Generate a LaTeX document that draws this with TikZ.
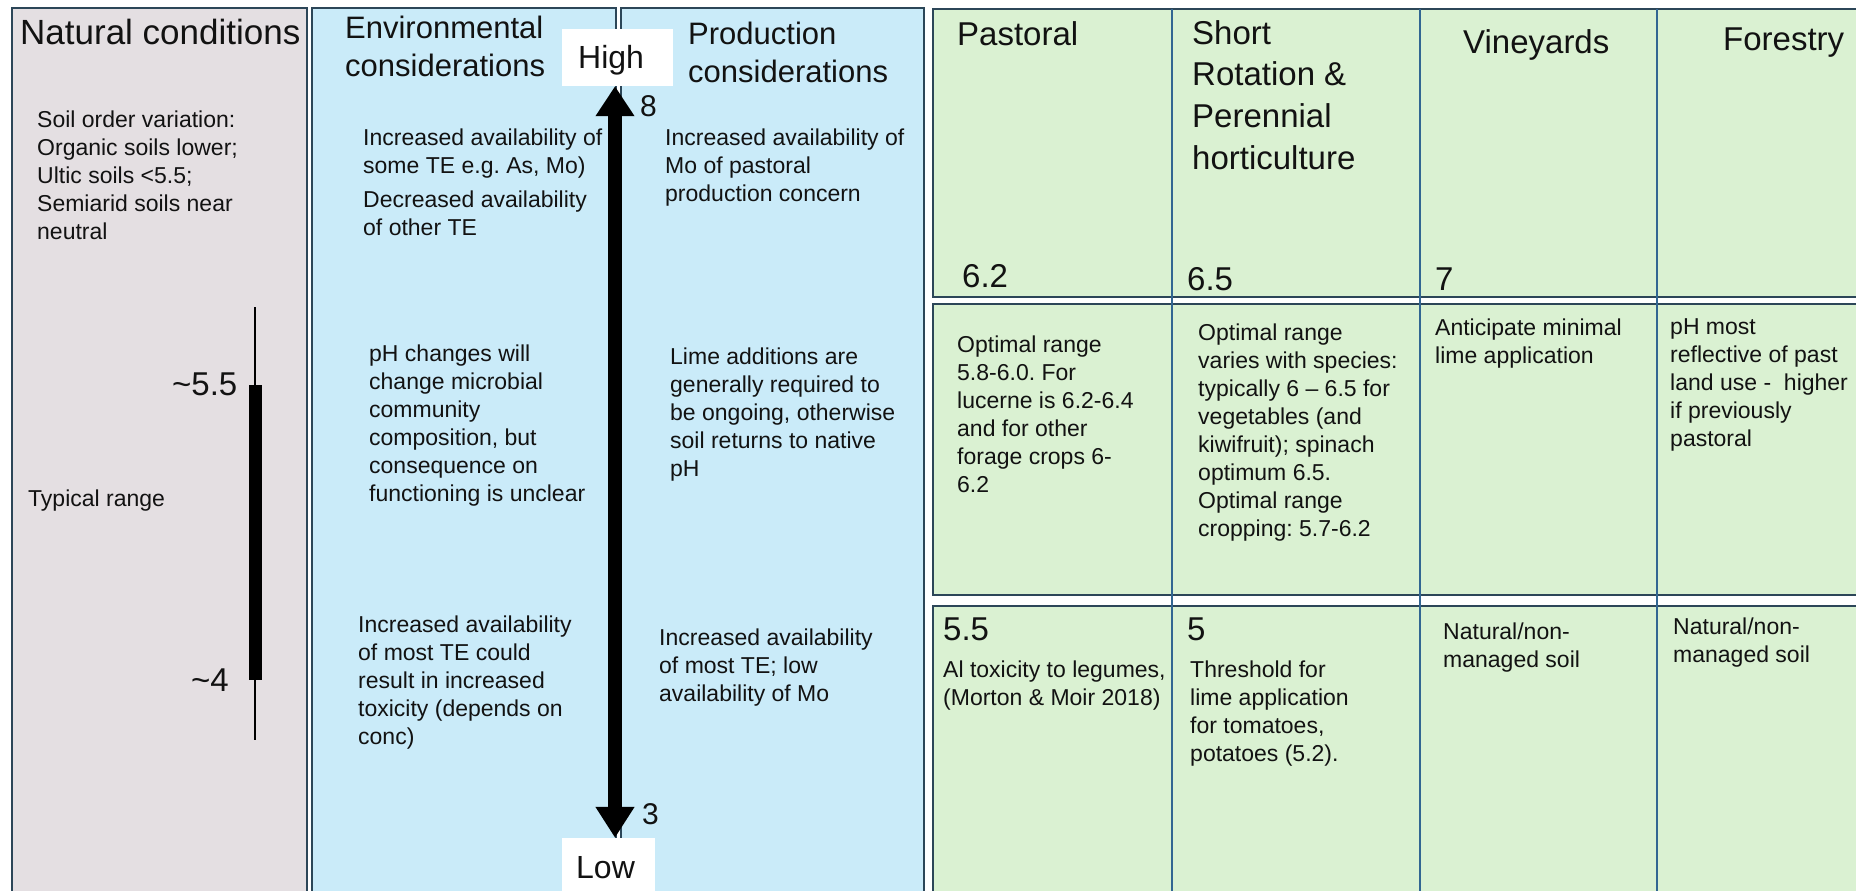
\documentclass[tikz,border=0pt]{standalone}
\usepackage{fontspec}
\setmainfont{Liberation Sans}
\usetikzlibrary{arrows.meta}
\frenchspacing
\definecolor{natfill}{RGB}{228,223,226}
\definecolor{bluefill}{RGB}{202,235,249}
\definecolor{greenfill}{RGB}{218,241,210}
\definecolor{frame}{RGB}{44,70,88}
\definecolor{divider}{RGB}{50,102,146}
\definecolor{ink}{RGB}{18,18,18}
\begin{document}
\begin{tikzpicture}[x=1pt,y=-1pt,
  panel/.style={draw=frame, line width=2.6pt},
  rowbox/.style={draw=frame, line width=2.8pt, fill=greenfill},
  divline/.style={draw=divider, line width=2pt},
  sm/.style={anchor=north west, inner sep=0pt, align=left, text=ink, font=\fontsize{23}{28}\selectfont},
  hdbig/.style={anchor=base west, inner sep=0pt, text=ink, font=\fontsize{35}{42}\selectfont},
  hdmid/.style={anchor=north west, inner sep=0pt, align=left, text=ink, font=\fontsize{31}{38}\selectfont},
  hdsr/.style={anchor=north west, inner sep=0pt, align=left, text=ink, font=\fontsize{33}{41.7}\selectfont},
  hdone/.style={anchor=base west, inner sep=0pt, text=ink, font=\fontsize{33}{40}\selectfont},
  hdnum/.style={anchor=base west, inner sep=0pt, text=ink, font=\fontsize{30}{36}\selectfont},
  whitebox/.style={fill=white, inner sep=0pt, draw=none},
]
\useasboundingbox (0,0) rectangle (1856,891);
\fill[white] (0,0) rectangle (1856,891);

% ---- left panels
\draw[panel, fill=natfill] (12,8) rectangle (307,905);
\draw[panel, fill=bluefill] (312,8) rectangle (616,905);
\draw[panel, fill=bluefill] (621,8) rectangle (924,905);

% ---- green table
\draw[rowbox] (933,9) rectangle (1875,297);
\draw[rowbox] (933,304) rectangle (1875,595);
\draw[rowbox] (933,606) rectangle (1875,905);
\draw[divline] (1172,9) -- (1172,905);
\draw[divline] (1420,9) -- (1420,905);
\draw[divline] (1657,9) -- (1657,905);

% ---- natural conditions
\node[hdbig] (natt) at (20,44.5) {Natural conditions};
\node[sm] (soil) at (37,108) {\strut Soil order variation:\\Organic soils lower;\\Ultic soils <5.5;\\Semiarid soils near\\neutral};
\node[sm] (typ) at (28,487) {\strut Typical range};
\node[hdone] (r55) at (172,395) {\textasciitilde 5.5};
\node[hdone, anchor=base east] (r4) at (229,691) {\textasciitilde 4};
\coordinate (rtop) at (255,307);
\coordinate (rbot) at (255,740);
\coordinate (btop) at (255,385);
\coordinate (bbot) at (255,680);
\draw[line width=1.8pt, black] (rtop) -- (rbot);
\draw[line width=13pt, black] (btop) -- (bbot);

% ---- environmental considerations
\node[hdmid] (envt) at (345,11.4) {\strut Environmental\\considerations};
\node[sm] (env1) at (363,126) {\strut Increased availability of\\some TE e.g. As, Mo)};
\node[sm] (env2) at (363,188) {\strut Decreased availability\\of other TE};
\node[sm] (env3) at (369,342) {\strut pH changes will\\change microbial\\community\\composition, but\\consequence on\\functioning is unclear};
\node[sm] (env4) at (358,613) {\strut Increased availability\\of most TE could\\result in increased\\toxicity (depends on\\conc)};

% ---- production considerations
\node[hdmid] (prodt) at (688,17.4) {\strut Production\\considerations};
\node[sm] (prod1) at (665,126) {\strut Increased availability of\\Mo of pastoral\\production concern};
\node[sm] (prod2) at (670,345) {\strut Lime additions are\\generally required to\\be ongoing, otherwise\\soil returns to native\\pH};
\node[sm] (prod3) at (659,626) {\strut Increased availability\\of most TE; low\\availability of Mo};

% ---- pH axis
\node[whitebox, minimum width=111pt, minimum height=57pt] (highbox) at (617.5,57.5) {};
\node[whitebox, minimum width=93pt, minimum height=62pt] (lowbox) at (608.5,869) {};
\node[hdone, font=\fontsize{32}{38}\selectfont] (high) at (578,69) {High};
\node[hdone, font=\fontsize{32}{38}\selectfont] (low) at (576,878) {Low};
\coordinate (axis) at (615,0);
\draw[line width=14pt, black, {Triangle[length=31pt,width=37pt]}-{Triangle[length=30pt,width=37pt]}]
  (lowbox.north -| axis) -- (highbox.south -| axis);
\node[hdnum] (n8) at (640,116) {8};
\node[hdnum] (n3) at (642,824) {3};

% ---- green headers
\node[hdone] (past) at (957,46) {Pastoral};
\node[hdsr] (srt) at (1192,14.8) {\strut Short\\Rotation \&\\Perennial\\horticulture};
\node[hdone] (vine) at (1463,54) {Vineyards};
\node[hdone] (fore) at (1723,51) {Forestry};
\node[hdone] (v62) at (962,287) {6.2};
\node[hdone] (v65) at (1187,290) {6.5};
\node[hdone] (v7) at (1435,290) {7};

% ---- middle row
\node[sm] (pastm) at (957,333) {\strut Optimal range\\5.8-6.0. For\\lucerne is 6.2-6.4\\and for other\\forage crops 6-\\6.2};
\node[sm] (srm) at (1198,321) {\strut Optimal range\\varies with species:\\typically 6 – 6.5 for\\vegetables (and\\kiwifruit); spinach\\optimum 6.5.\\Optimal range\\cropping: 5.7-6.2};
\node[sm] (vinem) at (1435,316) {\strut Anticipate minimal\\lime application};
\node[sm] (forem) at (1670,315) {\strut pH most\\reflective of past\\land use -\ \ higher\\if previously\\pastoral};

% ---- bottom row
\node[hdone] (v55) at (943,640) {5.5};
\node[hdone] (v5) at (1187,640) {5};
\node[sm] (pastb) at (943,658) {\strut Al toxicity to legumes,\\(Morton \& Moir 2018)};
\node[sm] (srb) at (1190,658) {\strut Threshold for\\lime application\\for tomatoes,\\potatoes (5.2).};
\node[sm] (vineb) at (1443,620) {\strut Natural/non-\\managed soil};
\node[sm] (foreb) at (1673,615) {\strut Natural/non-\\managed soil};
\end{tikzpicture}
\end{document}
